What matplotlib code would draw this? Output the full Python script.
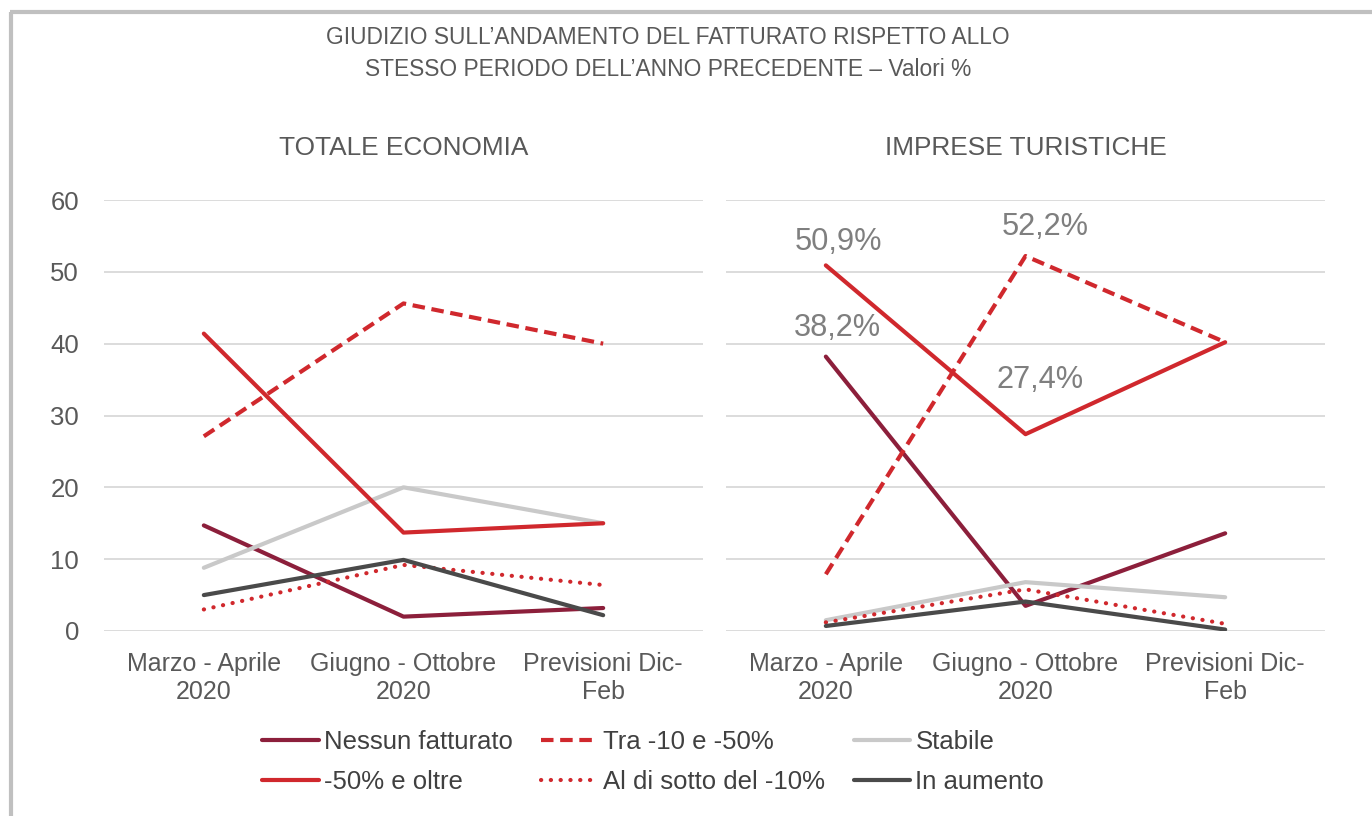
import matplotlib
matplotlib.use("Agg")
import matplotlib.pyplot as plt
from matplotlib import font_manager
from matplotlib.lines import Line2D

# categories and series (valori %)
periods = ["Marzo - Aprile\n2020", "Giugno - Ottobre\n2020", "Previsioni Dic-\nFeb"]
series_names = ["Nessun fatturato", "Tra -10 e -50%", "Stabile",
                "-50% e oltre", "Al di sotto del -10%", "In aumento"]

tot_nessun = [14.7, 2.0, 3.2]
tot_tra = [27.1, 45.6, 40.0]
tot_stabile = [8.8, 20.0, 15.0]
tot_oltre50 = [41.4, 13.7, 15.0]
tot_sotto10 = [3.0, 9.2, 6.4]
tot_aumento = [5.0, 9.9, 2.2]

tur_nessun = [38.2, 3.5, 13.6]
tur_tra = [7.9, 52.2, 40.2]
tur_stabile = [1.5, 6.8, 4.7]
tur_oltre50 = [50.9, 27.4, 40.2]
tur_sotto10 = [1.2, 5.8, 1.0]
tur_aumento = [0.7, 4.1, 0.2]

yticks = [0, 10, 20, 30, 40, 50, 60]

# colours / styles
MAROON = "#8C1F3B"
RED = "#D0282D"
LIGHT = "#C9C9C9"
DARK = "#4A4A4A"
TXT = "#595959"
styles = {
    "Nessun fatturato": dict(color=MAROON, ls="-"),
    "Tra -10 e -50%": dict(color=RED, ls=(0, (3, 1.6))),
    "Stabile": dict(color=LIGHT, ls="-"),
    "-50% e oltre": dict(color=RED, ls="-"),
    "Al di sotto del -10%": dict(color=RED, ls=(0, (0.05, 2.3)), dash_capstyle="round"),
    "In aumento": dict(color=DARK, ls="-"),
}

names = {f.name for f in font_manager.fontManager.ttflist}
if "Liberation Sans Narrow" in names:
    NARROW, nscale = "Liberation Sans Narrow", 1.0
else:
    NARROW, nscale = "Liberation Sans", 0.82
plt.rcParams["font.family"] = ["Liberation Sans", "DejaVu Sans"]

fig = plt.figure(figsize=(13.72, 8.16), dpi=100)

# grey frame
fig.add_artist(Line2D([11 / 1372, 11 / 1372], [0, 1 - 12 / 816], color="#C0C0C0", lw=3,
                      transform=fig.transFigure, solid_capstyle="butt"))
fig.add_artist(Line2D([9.5 / 1372, 1], [1 - 12 / 816, 1 - 12 / 816], color="#C0C0C0", lw=3,
                      transform=fig.transFigure, solid_capstyle="butt"))

fig.text(0.487, 1 - 37 / 816, "GIUDIZIO SULL\u2019ANDAMENTO DEL FATTURATO RISPETTO ALLO",
         ha="center", va="center", fontsize=20 * nscale, color=TXT, family=NARROW)
fig.text(0.487, 1 - 70 / 816, "STESSO PERIODO DELL\u2019ANNO PRECEDENTE \u2013 Valori %",
         ha="center", va="center", fontsize=20 * nscale, color=TXT, family=NARROW)

panels = [
    ("TOTALE ECONOMIA", 104, [tot_nessun, tot_tra, tot_stabile, tot_oltre50, tot_sotto10, tot_aumento]),
    ("IMPRESE TURISTICHE", 726, [tur_nessun, tur_tra, tur_stabile, tur_oltre50, tur_sotto10, tur_aumento]),
]

axes = []
for title, x0, data in panels:
    ax = fig.add_axes([x0 / 1372, 1 - 631 / 816, 599 / 1372, 431 / 816])
    axes.append(ax)
    xs = range(len(periods))
    for name, vals in zip(series_names, data):
        ax.plot(xs, vals, lw=3, label=name, solid_capstyle="round", **styles[name])
    ax.set_xlim(-0.5, 2.5)
    ax.set_ylim(0, 60)
    ax.set_yticks(yticks)
    ax.set_xticks(list(xs))
    ax.set_xticklabels(periods, fontsize=18, color=TXT, linespacing=1.2)
    ax.grid(axis="y", color="#D9D9D9", lw=1.3)
    ax.set_axisbelow(True)
    for s in ax.spines.values():
        s.set_visible(False)
    ax.tick_params(length=0, pad=15)
    ax.tick_params(axis="y", pad=18, labelsize=18.5, labelcolor=TXT)
    ax.text(0.5, 1 + 52 / 431, title, transform=ax.transAxes, ha="center", va="center",
            fontsize=23 * nscale, color=TXT, family=NARROW)

axes[1].tick_params(axis="y", labelleft=False)

# data labels on the tourism panel
ax = axes[1]
labels = [(0, tur_oltre50[0], (13, 23)), (1, tur_tra[1], (20, 29)),
          (0, tur_nessun[0], (12, 29)), (1, tur_oltre50[1], (15, 54))]
for i, v, off in labels:
    ax.annotate(f"{v:.1f}%".replace(".", ","), (i, v), xytext=(off[0], off[1]),
                textcoords="offset pixels", ha="center", va="center",
                fontsize=27 * nscale, color="#7F7F7F", family=NARROW, annotation_clip=False)

handles, lbls = axes[0].get_legend_handles_labels()
order = [0, 3, 1, 4, 2, 5]
fig.legend([handles[i] for i in order], [lbls[i] for i in order],
           loc="upper left", bbox_to_anchor=(262 / 1372, 1 - 730 / 816), ncol=3,
           frameon=False, fontsize=18.5, labelcolor="#404040", handlelength=2.2,
           handletextpad=0.2, columnspacing=1.12, labelspacing=0.62, borderpad=0,
           borderaxespad=0)

fig.savefig("out.png", dpi=100, facecolor="white")
